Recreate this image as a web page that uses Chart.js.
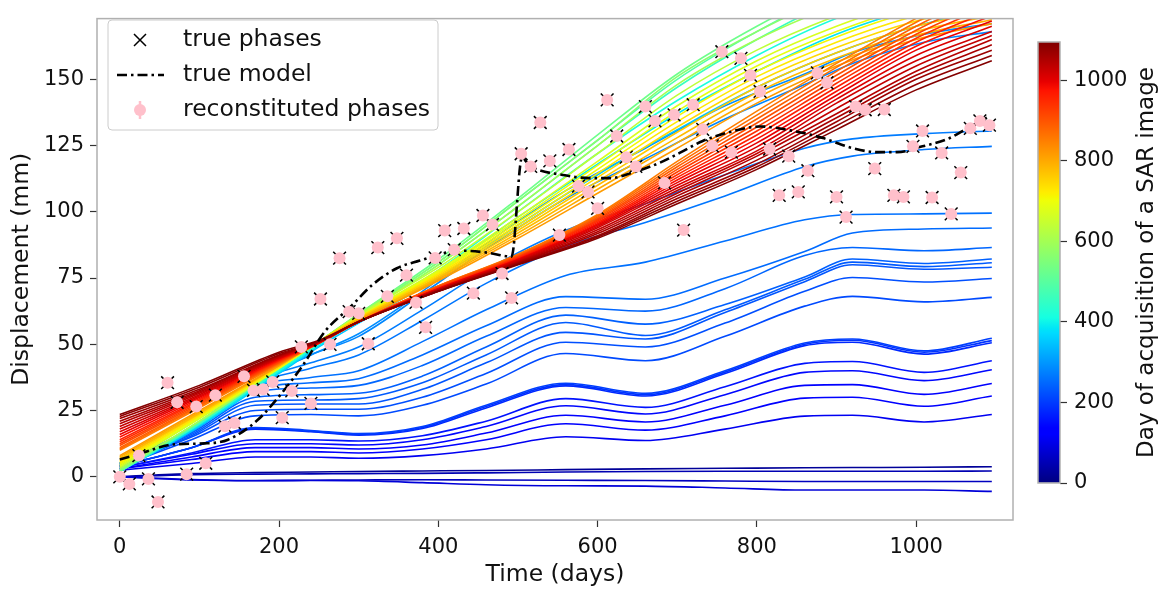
<!DOCTYPE html>
<html>
<head>
<meta charset="utf-8">
<script src="https://cdn.jsdelivr.net/npm/chart.js@4.4.1/dist/chart.umd.min.js"></script>
<style>
  html, body { margin: 0; padding: 0; background: #fff; }
  #wrap { position: relative; width: 1169px; height: 589px; }
  #main { position: absolute; left: 0; top: 0; }
  #cbar { position: absolute; left: 1013px; top: 0; }
</style>
</head>
<body>
<div id="wrap">
  <canvas id="main" width="1169" height="589"></canvas>
  <canvas id="cbar" width="156" height="589"></canvas>
</div>
<script>
// ---- data ----
const xTickValues = [0, 200, 400, 600, 800, 1000];
const yTickValues = [0, 25, 50, 75, 100, 125, 150];
const cbarTickValues = [0, 200, 400, 600, 800, 1000];

const phaseDays = [0, 12, 24, 36, 48, 60, 72, 84, 96, 108, 120, 132, 144, 156, 168, 180, 192, 204, 216, 228,
  240, 252, 264, 276, 288, 300, 312, 324, 336, 348, 360, 372, 384, 396, 408, 420, 432, 444, 456, 468,
  480, 492, 504, 516, 528, 540, 552, 564, 576, 588, 600, 612, 624, 636, 648, 660, 672, 684, 696, 708,
  720, 732, 744, 756, 768, 780, 792, 804, 816, 828, 840, 852, 864, 876, 888, 900, 912, 924, 936, 948,
  960, 972, 984, 996, 1008, 1020, 1032, 1044, 1056, 1068, 1080, 1092];
const phaseValues = [0, -2.7, 8.0, -0.8, -9.5, 35.5, 28.1, 1.0, 26.5, 5.1, 30.8, 19.1, 20.3, 37.9, 32.6, 33.0, 35.8, 22.3, 32.4, 49.0,
  27.7, 67.1, 50.0, 82.5, 62.3, 61.7, 50.2, 86.5, 68.1, 90.0, 76.1, 65.8, 56.4, 82.6, 92.9, 85.7, 93.7, 69.3, 98.6, 95.2,
  76.7, 67.5, 121.9, 117.1, 133.7, 119.2, 91.2, 123.5, 109.7, 107.5, 101.3, 142.2, 128.6, 120.6, 117.1, 139.7, 134.3, 110.9, 136.6, 93.1,
  140.4, 131.1, 124.9, 160.4, 122.5, 157.9, 151.5, 145.4, 123.7, 106.2, 121.0, 107.5, 115.5, 152.4, 148.7, 105.6, 98.0, 139.7, 138.5, 116.3,
  138.6, 106.2, 105.6, 124.7, 130.5, 105.4, 122.2, 99.2, 114.8, 131.5, 134.3, 132.7];

const modelDays = [0, 23, 67, 107, 136, 173, 204, 229, 258, 289, 317, 348, 377, 410, 431, 461, 492, 505, 515,
  559, 590, 616, 644, 678, 703, 732, 770, 804, 841, 883, 917, 951, 976, 1008, 1039, 1064, 1092];
const modelValues = [6.5, 8.5, 12.2, 12.6, 14, 21.4, 31.8, 41.7, 55, 63.9, 72.4, 78.7, 81.6, 84.6, 85.3, 84.6, 83.1, 120.4, 117.4,
  113.8, 112.7, 112.7, 114.8, 118.5, 122.2, 126.7, 130.4, 132.2, 130.8, 127.8, 124.3, 122.5, 122.5, 124.7, 127.4, 131.5, 136];

// curves fitted at each acquisition: two sampling grids
const wavyDays = [0, 90, 170, 240, 300, 380, 460, 560, 660, 760, 860, 920, 1010, 1095];
const smoothDays = [0, 100, 200, 250, 300, 400, 500, 600, 700, 800, 900, 1000, 1095];

const navyAcq = [24, 48, 60, 84];
const navyCurves = [
  [0, 1.2, 1.6, 1.8, 2, 2.2, 2.4, 2.7, 3, 3.2, 3.4, 3.5, 3.6, 3.8],
  [0, 0.8, 1.0, 1.1, 1.2, 1.3, 1.5, 1.8, 2.0, 2.1, 2.1, 2.1, 2.1, 2.2],
  [0, -1, -1.4, -1.3, -1.2, -1.1, -1.2, -1.3, -1.4, -1.6, -1.8, -1.8, -1.8, -1.8],
  [0, -1.2, -1.5, -1.4, -1.5, -2.2, -3, -3.4, -3.5, -4.2, -5, -5, -5, -5.5]
];

const blueAcq = [108, 120, 132, 144, 156, 180, 192, 204];
const blueCurves = [
  [2.5, 5, 7.5, 7.5, 7, 8, 10.5, 15.1, 13.7, 18, 22.9, 23.2, 20.7, 23.5],
  [3, 6.5, 9.5, 9.5, 9, 10.5, 14, 20, 17.6, 23, 29.7, 30, 26.6, 30.5],
  [3, 7.5, 11, 11, 10.5, 12, 16.5, 23.2, 20.7, 27, 34.5, 34.8, 31.1, 35.2],
  [3.5, 8.5, 12.5, 12.5, 12, 14, 19, 26.8, 23.7, 31, 39.4, 40, 36.3, 40.4],
  [3.5, 9, 14, 14, 13.5, 15.5, 21, 29.5, 26.2, 34, 42.8, 43.5, 39.4, 43.8],
  [4, 11, 18, 17, 15.7, 18.2, 26, 34.3, 30.5, 39, 49.5, 50.8, 46.3, 50.6],
  [4, 11, 18.3, 17.2, 16, 18.6, 26.5, 34.8, 31, 39.5, 50, 51.5, 47, 51.4],
  [4, 11, 18.6, 17.5, 16.3, 19, 27, 35.3, 31.5, 40, 50.5, 52, 47.5, 52.3]
];

const skyAcq = [216, 222, 228, 234, 240, 246, 252, 258, 264, 270, 282, 288];
const skyCurves = [
  [4, 14, 23, 23.5, 23, 27, 35, 46.5, 43.8, 53, 64.4, 68.1, 66, 67.7],
  [4, 15, 25, 25.5, 25.5, 30, 39, 50.8, 49, 58, 70, 75.2, 73.5, 74.8],
  [4, 15.5, 27, 27.5, 27.5, 33, 43, 54.5, 52, 62, 73.6, 80, 78.3, 79.1],
  [4.5, 16, 28.5, 29, 29.5, 35.5, 46, 58.2, 53.3, 63, 74.5, 81, 79.3, 80.8],
  [4.5, 16.5, 30, 31, 31.5, 38, 49, 61, 57.6, 65, 75.4, 82.2, 80.5, 82.2],
  [5, 17, 32, 33.5, 34.5, 42, 53, 63.9, 62.5, 71, 83.5, 86.5, 85.3, 86.5],
  [5, 17.5, 33, 35.5, 37, 46, 57, 68, 67, 75, 85, 92, 93.5, 93.9],
  [5, 18, 34, 37.5, 40, 51, 63, 76, 81, 89, 97, 99, 99.2, 99.5],
  [5, 18, 35, 41, 46, 59, 73, 87, 96, 106, 117, 121, 123.5, 124.7],
  [5, 18.5, 36, 43, 49, 63, 78, 93, 103, 114, 124, 127.5, 129.5, 130.5],
  [3, 18, 36, 46, 53, 69, 86, 105, 120, 135, 148, 156, 164, 168],
  [3, 18, 36, 46, 54, 70, 88, 108, 124, 140, 152, 160, 167, 171]
];

const rainbowAcq = [348, 384, 420, 456, 492, 528, 564, 600, 636, 672, 690, 708, 726, 744, 762, 780, 798, 816];
const rainbowCurves = [
  [2, 19, 39, 49, 58, 75, 95, 114, 131, 147, 160, 170, 177],
  [2, 19.5, 39.5, 49.5, 59, 77, 98, 118, 137, 153, 167, 177, 184],
  [2, 20, 40, 50, 60, 78, 100, 122, 142, 159, 173, 183, 190],
  [2, 20, 40.5, 50.5, 60.5, 80, 102, 125, 147, 165, 180, 190, 197],
  [2, 20.5, 41, 51, 61, 81, 104, 127, 150, 168, 183, 193, 200],
  [2, 21, 41, 51, 61.5, 82, 105, 129, 152, 170, 185, 195, 202],
  [2.5, 21, 41, 51, 61.5, 81, 104, 127, 151, 168, 182, 192, 198],
  [3, 21, 41, 51, 61, 80, 102, 125, 148, 165, 178, 188, 194],
  [3.5, 22, 41, 51, 61, 79, 100, 122, 144, 161, 174, 184, 190],
  [4, 22, 41, 51, 60.5, 78, 98, 119, 140, 157, 170, 180, 186],
  [4.5, 22.5, 41, 51, 60, 77.5, 97, 117.5, 138, 155, 168, 178, 184],
  [5, 23, 41.5, 51, 60, 77, 96, 116, 136, 153, 166, 176, 182],
  [5.5, 23, 41.5, 51, 60, 76.5, 95, 114.5, 134, 151, 164, 174, 180],
  [6, 23.5, 41.5, 51, 60, 76, 94, 113, 132, 149, 162, 172, 178],
  [6.5, 24, 42, 51, 59.5, 75.5, 93, 111.5, 130, 147, 160, 170, 176],
  [7, 24, 42, 51, 59.5, 75, 92, 110, 128, 145, 158, 168, 174],
  [7.5, 24.5, 42, 51, 59, 74.5, 91, 108.5, 126, 143, 156.5, 166.5, 172.5],
  [8, 25, 42, 51, 59, 74, 90, 107, 124, 141, 155, 165, 171]
];

const redAcq = [852, 870, 888, 906, 924, 942, 960, 978, 996, 1008, 1020, 1032, 1044, 1056, 1068, 1080, 1092];
const redCurves = [
  [10, 26, 42.5, 50.5, 58.5, 72, 84, 99, 119, 138, 156, 173, 188],
  [10.5, 26.5, 42.8, 50.5, 58.5, 72, 83.8, 98.5, 118, 136.5, 154.5, 171.5, 186],
  [11, 27, 43, 50.5, 58.5, 72, 83.5, 98, 117, 135, 153, 170, 184],
  [11.8, 27.5, 43.2, 50.5, 58.5, 71.8, 83.2, 97.5, 116, 133.5, 151.5, 168.5, 182],
  [12.5, 28, 43.5, 50.5, 58.5, 71.5, 83, 97, 115, 132, 150, 167, 180],
  [13.2, 28.5, 43.8, 50.5, 58.5, 71.2, 82.8, 96.5, 114, 130.5, 148.5, 165.5, 178],
  [14, 29, 44, 50.5, 58.5, 71, 82.5, 96, 113, 129, 147, 164, 176],
  [15, 29.5, 44.2, 50.5, 58.5, 71, 82.2, 95.5, 112, 127.5, 145.5, 162.5, 174],
  [16, 30, 44.5, 50.5, 58.5, 71, 82, 95, 111, 126, 144, 161, 172],
  [17, 30.5, 44.8, 50.8, 58.5, 70.8, 81.8, 94.5, 110, 124.5, 142.5, 159, 170],
  [18, 31, 45, 51, 58.5, 70.5, 81.5, 94, 109, 123, 141, 157, 168],
  [19, 31.5, 45.2, 51, 58.5, 70.5, 81.2, 93.2, 108, 122, 139, 155, 166.5],
  [20, 32, 45.5, 51, 58.5, 70.5, 81, 92.5, 107, 121, 137, 153, 165],
  [21, 32.5, 45.8, 51, 58.5, 70.2, 80.8, 91.8, 106, 119.5, 135.5, 151.5, 163],
  [22, 33, 46, 51, 58.5, 70, 80.5, 91, 105, 118, 134, 150, 161],
  [22.8, 33.8, 46.5, 51.2, 58.5, 70, 80.2, 90.5, 104, 117, 132.5, 148, 159],
  [23.5, 34.5, 47, 51.5, 58.5, 70, 80, 90, 103, 116, 131, 146, 157]
];

const dayMax = 1095;

// ---- jet colormap ----
const JET_R = [[0, 0], [0.35, 0], [0.66, 1], [0.89, 1], [1, 0.5]];
const JET_G = [[0, 0], [0.125, 0], [0.375, 1], [0.64, 1], [0.91, 0], [1, 0]];
const JET_B = [[0, 0.5], [0.11, 1], [0.34, 1], [0.65, 0], [1, 0]];
function channel(pts, t) {
  for (let i = 1; i < pts.length; i++) {
    if (t <= pts[i][0]) {
      const [x0, y0] = pts[i - 1], [x1, y1] = pts[i];
      return y0 + (y1 - y0) * (t - x0) / (x1 - x0);
    }
  }
  return pts[pts.length - 1][1];
}
function jet(t) {
  t = Math.max(0, Math.min(1, t));
  const r = Math.round(255 * channel(JET_R, t));
  const g = Math.round(255 * channel(JET_G, t));
  const b = Math.round(255 * channel(JET_B, t));
  return `rgb(${r},${g},${b})`;
}

const FONT = "'DejaVu Sans', sans-serif";
const TICK_SIZE = 21;
const LABEL_SIZE = 23.5;
const xy = (xs, ys) => xs.map((x, i) => ({ x, y: ys[i] }));

const datasets = [];
datasets.push({
  label: 'reconstituted phases', data: xy(phaseDays, phaseValues),
  pointStyle: 'circle', pointRadius: 6, backgroundColor: 'pink', borderWidth: 0, showLine: false, order: 0
});
datasets.push({
  label: 'true phases', data: xy(phaseDays, phaseValues),
  pointStyle: 'crossRot', pointRadius: 9, borderColor: '#000', borderWidth: 1.5, showLine: false, order: 1
});
datasets.push({
  label: 'true model', data: xy(modelDays, modelValues), showLine: true,
  borderColor: '#000', borderWidth: 2.6, borderDash: [10, 4, 2.5, 4], pointRadius: 0,
  cubicInterpolationMode: 'monotone', order: 2
});
function addCurves(acq, curves, days) {
  curves.forEach((vals, i) => {
    datasets.push({
      label: 'fit ' + acq[i], data: xy(days, vals), showLine: true,
      borderColor: jet(acq[i] / dayMax), borderWidth: 1.6, pointRadius: 0,
      cubicInterpolationMode: 'monotone', order: 10 + (2000 - acq[i])
    });
  });
}
addCurves(navyAcq, navyCurves, wavyDays);
addCurves(blueAcq, blueCurves, wavyDays);
addCurves(skyAcq, skyCurves, wavyDays);
addCurves(rainbowAcq, rainbowCurves, smoothDays);
addCurves(redAcq, redCurves, smoothDays);

const framePlugin = {
  id: 'frame',
  afterDatasetsDraw(chart) {
    const { ctx, chartArea: a } = chart;
    ctx.save();
    ctx.strokeStyle = '#b0b0b0';
    ctx.lineWidth = 1.5;
    ctx.strokeRect(a.left, a.top, a.right - a.left, a.bottom - a.top);
    ctx.restore();
  }
};

const legendPlugin = {
  id: 'boxLegend',
  afterDraw(chart) {
    const ctx = chart.ctx;
    ctx.save();
    // box
    ctx.beginPath();
    ctx.roundRect(108, 20, 330, 110, 4);
    ctx.fillStyle = 'rgba(255,255,255,0.8)';
    ctx.fill();
    ctx.strokeStyle = '#cccccc';
    ctx.lineWidth = 1;
    ctx.stroke();
    // x marker
    ctx.strokeStyle = '#000';
    ctx.lineWidth = 1.5;
    ctx.beginPath();
    ctx.moveTo(134, 34); ctx.lineTo(146, 46);
    ctx.moveTo(146, 34); ctx.lineTo(134, 46);
    ctx.stroke();
    // dash-dot line
    ctx.lineWidth = 2.6;
    ctx.setLineDash([10, 4, 2.5, 4]);
    ctx.beginPath();
    ctx.moveTo(117, 75); ctx.lineTo(164, 75);
    ctx.stroke();
    ctx.setLineDash([]);
    // pink marker with error bar
    ctx.strokeStyle = 'pink';
    ctx.lineWidth = 2.5;
    ctx.beginPath();
    ctx.moveTo(140, 101); ctx.lineTo(140, 119);
    ctx.stroke();
    ctx.fillStyle = 'pink';
    ctx.beginPath();
    ctx.arc(140, 110, 6, 0, Math.PI * 2);
    ctx.fill();
    // texts
    ctx.fillStyle = '#111';
    ctx.font = LABEL_SIZE + 'px ' + FONT;
    ctx.textBaseline = 'middle';
    ctx.textAlign = 'left';
    ctx.fillText('true phases', 183, 40);
    ctx.fillText('true model', 183, 75);
    ctx.fillText('reconstituted phases', 183, 110);
    ctx.restore();
  }
};

new Chart(document.getElementById('main'), {
  type: 'scatter',
  data: { datasets },
  options: {
    responsive: false,
    animation: false,
    events: [],
    layout: { padding: { left: 0, top: 8, right: 156, bottom: 0 } },
    plugins: { legend: { display: false }, tooltip: { enabled: false } },
    scales: {
      x: {
        type: 'linear', min: -28.6, max: 1121.6,
        afterBuildTicks: s => { s.ticks = xTickValues.map(v => ({ value: v })); },
        afterFit: s => { s.height = 69; },
        grid: { drawOnChartArea: false, drawTicks: true, tickLength: 7, tickColor: '#333', tickWidth: 1.2 },
        border: { display: false },
        ticks: { font: { family: FONT, size: TICK_SIZE }, color: '#111', padding: 8, maxRotation: 0, autoSkip: false,
          callback: v => String(v) },
        title: { display: true, text: 'Time (days)', font: { family: FONT, size: LABEL_SIZE }, color: '#111',
          padding: { top: 0, bottom: 0 } }
      },
      y: {
        type: 'linear', min: -16.3, max: 172.9,
        afterBuildTicks: s => { s.ticks = yTickValues.map(v => ({ value: v })); },
        afterFit: s => { s.width = 97; },
        grid: { drawOnChartArea: false, drawTicks: true, tickLength: 7, tickColor: '#333', tickWidth: 1.2 },
        border: { display: false },
        ticks: { font: { family: FONT, size: TICK_SIZE }, color: '#111', padding: 6, autoSkip: false,
          callback: v => String(v) },
        title: { display: true, text: 'Displacement (mm)', font: { family: FONT, size: LABEL_SIZE }, color: '#111',
          padding: { top: 8, bottom: 0 } }
      }
    }
  },
  plugins: [framePlugin, legendPlugin]
});

// ---- colour bar ----
const JET_STOPS = [0, 0.11, 0.125, 0.34, 0.35, 0.375, 0.64, 0.65, 0.66, 0.89, 0.91, 1];
const cbarFrame = {
  id: 'cbarFrame',
  afterDraw(chart) {
    const { ctx, chartArea: a } = chart;
    ctx.save();
    ctx.strokeStyle = '#b0b0b0';
    ctx.lineWidth = 1.5;
    ctx.strokeRect(a.left, a.top, a.right - a.left, a.bottom - a.top);
    ctx.fillStyle = '#111';
    ctx.font = '23px ' + FONT;
    ctx.textAlign = 'center';
    ctx.textBaseline = 'middle';
    ctx.translate(134, (a.top + a.bottom) / 2);
    ctx.rotate(-Math.PI / 2);
    ctx.fillText('Day of acquisition of a SAR image', 0, 0);
    ctx.restore();
  }
};
new Chart(document.getElementById('cbar'), {
  type: 'bar',
  data: {
    labels: ['day'],
    datasets: [{
      data: [[0, dayMax]],
      borderWidth: 0, barPercentage: 1, categoryPercentage: 1,
      backgroundColor: c => {
        const a = c.chart.chartArea;
        if (!a) return 'blue';
        const g = c.chart.ctx.createLinearGradient(0, a.bottom, 0, a.top);
        JET_STOPS.forEach(s => g.addColorStop(s, jet(s)));
        return g;
      }
    }]
  },
  options: {
    responsive: false,
    animation: false,
    events: [],
    layout: { padding: { left: 25, top: 42, right: 0, bottom: 106 } },
    plugins: { legend: { display: false }, tooltip: { enabled: false } },
    scales: {
      x: { display: false },
      y: {
        position: 'right', min: 0, max: dayMax,
        afterBuildTicks: s => { s.ticks = cbarTickValues.map(v => ({ value: v })); },
        afterFit: s => { s.width = 109; },
        grid: { drawOnChartArea: false, drawTicks: true, tickLength: 7, tickColor: '#333', tickWidth: 1.2 },
        border: { display: false },
        ticks: { font: { family: FONT, size: TICK_SIZE }, color: '#111', padding: 7, autoSkip: false,
          callback: v => String(v) }
      }
    }
  },
  plugins: [cbarFrame]
});
</script>
</body>
</html>
